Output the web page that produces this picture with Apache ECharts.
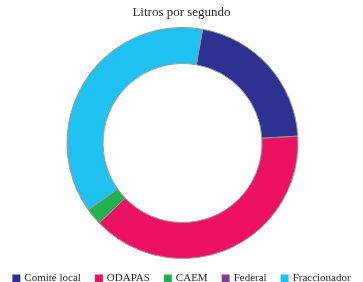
<!DOCTYPE html>
<html>
<head>
<meta charset="utf-8">
<script src="https://cdn.jsdelivr.net/npm/echarts@6/dist/echarts.min.js"></script>
<style>html,body{margin:0;padding:0;background:#fff}#c{width:363px;height:282px}</style>
</head>
<body>
<div id="c"></div>
<script>
var titleText = 'Litros por segundo';
var categories = ['Comité local', 'ODAPAS', 'CAEM', 'Federal', 'Fraccionador'];
var values = [90, 164, 10, 0, 159];
var colors = ['#2E3192', '#ED1164', '#22B14C', '#7F3F98', '#1FC1F0'];

var chart = echarts.init(document.getElementById('c'), null, {renderer: 'canvas'});
chart.setOption({
  backgroundColor: '#ffffff',
  animation: false,
  title: {
    text: titleText,
    left: 'center',
    top: 1,
    textStyle: {fontFamily: 'Liberation Serif', fontSize: 13, fontWeight: 'normal', color: '#231F20'}
  },
  legend: {
    data: categories,
    left: 'center',
    top: 268,
    itemWidth: 8,
    itemHeight: 8,
    itemGap: 14,
    icon: 'rect',
    itemStyle: {borderWidth: 0},
    textStyle: {fontFamily: 'Liberation Serif', fontSize: 11, color: '#231F20', padding: [0,0,0,-1]}
  },
  series: [{
    type: 'pie',
    center: [182.5, 143],
    radius: [79.5, 115.5],
    startAngle: 80,
    clockwise: true,
    label: {show: false},
    labelLine: {show: false},
    emphasis: {disabled: true},
    itemStyle: {borderColor: '#9a9a9a', borderWidth: 1},
    data: categories.map(function (n, i) {
      return {name: n, value: values[i], itemStyle: {color: colors[i]}};
    })
  }]
});
</script>
</body>
</html>
